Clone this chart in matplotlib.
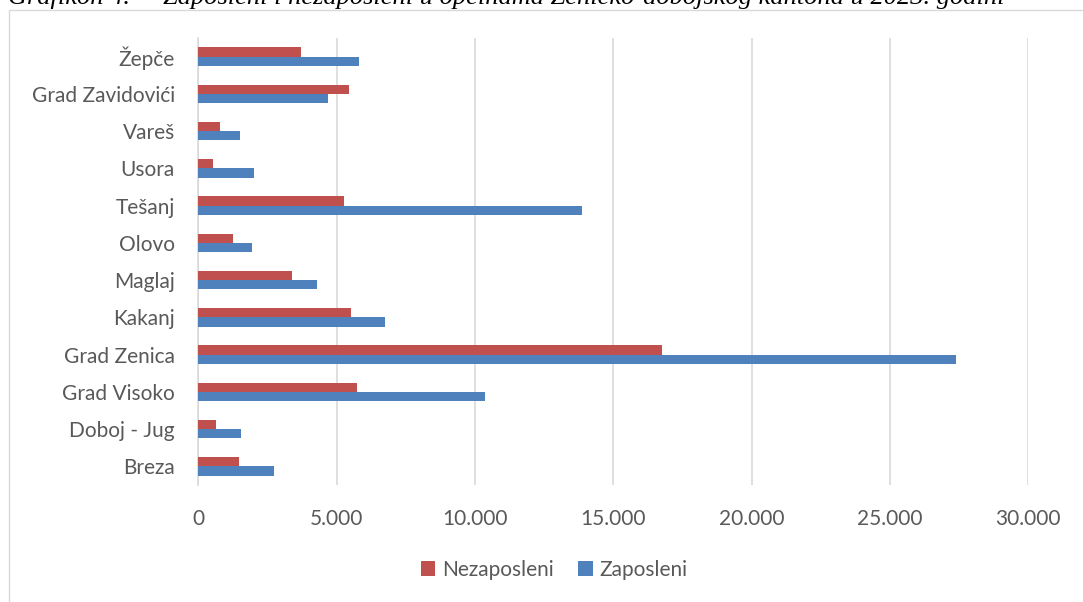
import numpy as np
import matplotlib.pyplot as plt
from matplotlib.patches import Rectangle
from matplotlib.ticker import FuncFormatter

# Opcine, odozdo prema gore (kao u Excelu)
opcine = ['Breza', 'Doboj - Jug', 'Grad Visoko', 'Grad Zenica', 'Kakanj', 'Maglaj',
          'Olovo', 'Tešanj', 'Usora', 'Vareš', 'Grad Zavidovići', 'Žepče']
nezaposleni = [1470, 630, 5730, 16770, 5510, 3400, 1240, 5270, 540, 770, 5440, 3700]
zaposleni = [2740, 1530, 10350, 27380, 6740, 4280, 1940, 13880, 2010, 1510, 4700, 5810]

naslov = 'Grafikon 4.  – Zaposleni i nezaposleni u općinama Zeničko-dobojskog kantona u 2023. godini'

crvena = '#C0504D'
plava = '#4F81BD'
siva_tekst = '#595959'
siva_linija = '#D9D9D9'

W, H = 1083, 602
fig = plt.figure(figsize=(W / 100, H / 100), dpi=100)

# okvir grafikona (odsjecen desno i dolje)
fig.patches.append(Rectangle((9 / W, -0.1), 1.2, 1 - 10 / H + 0.1, transform=fig.transFigure,
                             fill=False, edgecolor=siva_linija, linewidth=1.0))

ax = fig.add_axes([198.3 / W, 1 - 485 / H, (1028.3 - 198.3) / W, (485 - 38) / H])

y = np.arange(len(opcine))
h = 0.25
ax.barh(y + h / 2, nezaposleni, height=h, color=crvena, label='Nezaposleni', zorder=3)
ax.barh(y - h / 2, zaposleni, height=h, color=plava, label='Zaposleni', zorder=3)

ax.set_xlim(0, 30000)
ax.set_ylim(-0.5, len(opcine) - 0.5)
ax.set_xticks(np.arange(0, 30001, 5000))
ax.xaxis.set_major_formatter(FuncFormatter(lambda v, p: f'{int(v):,}'.replace(',', '.')))
ax.set_yticks(y)
ax.set_yticklabels(opcine)

ax.grid(axis='x', color=siva_linija, linewidth=1.2, zorder=0)
for s in ['top', 'right', 'bottom']:
    ax.spines[s].set_visible(False)
ax.spines['left'].set_color(siva_linija)
ax.spines['left'].set_linewidth(1.2)

ax.tick_params(axis='both', length=0, labelsize=15, labelcolor=siva_tekst)
ax.tick_params(axis='x', pad=17)
ax.tick_params(axis='y', pad=17)
for lbl in ax.get_xticklabels() + ax.get_yticklabels():
    lbl.set_family('Lato')

leg = fig.legend(loc='center', bbox_to_anchor=(554 / W, 1 - 570 / H), ncol=2, frameon=False,
                 prop={'family': 'Lato', 'size': 15}, handlelength=0.7, handleheight=0.7,
                 handletextpad=0.3, columnspacing=1.2)
for t in leg.get_texts():
    t.set_color(siva_tekst)

# naslov je u originalu odsjecen na vrhu
fig.text(8 / W, 1 - 4 / H, naslov, family='Liberation Serif', style='italic', fontsize=19,
         va='baseline', ha='left', color='black')

fig.savefig('out.png', dpi=100)
